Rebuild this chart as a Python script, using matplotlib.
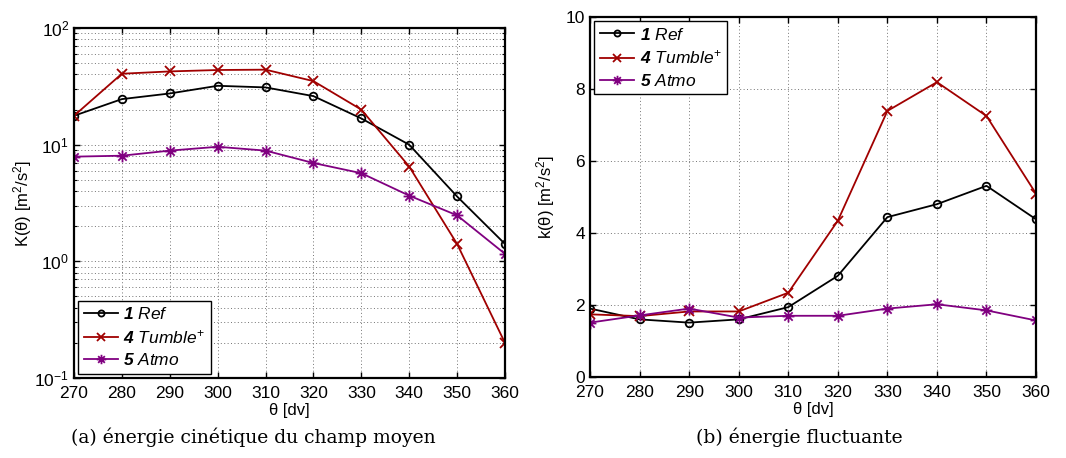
import numpy as np
import matplotlib.pyplot as plt
from matplotlib.path import Path
from matplotlib.ticker import LogLocator, NullFormatter

# === fonts (Helvetica-like axes, serif captions) ===
plt.rcParams['font.family'] = ['Liberation Sans', 'DejaVu Sans']
plt.rcParams['mathtext.fontset'] = 'custom'
plt.rcParams['mathtext.rm'] = 'Liberation Sans'
plt.rcParams['mathtext.it'] = 'Liberation Sans:italic'
plt.rcParams['mathtext.bf'] = 'Liberation Sans:bold'
plt.rcParams['mathtext.bfit'] = 'Liberation Sans:bold:italic'

# === data ===
theta = [270, 280, 290, 300, 310, 320, 330, 340, 350, 360]

K_ref = [17.7, 24.6, 27.5, 32.0, 31.0, 26.1, 16.8, 10.0, 3.6, 1.41]
K_tumble = [17.7, 40.6, 42.5, 43.7, 44.0, 35.1, 20.0, 6.5, 1.41, 0.20]
K_atmo = [7.9, 8.05, 8.9, 9.6, 8.9, 6.97, 5.7, 3.66, 2.48, 1.16]

k_ref = [1.90, 1.60, 1.51, 1.60, 1.94, 2.81, 4.44, 4.80, 5.31, 4.38]
k_tumble = [1.74, 1.69, 1.82, 1.82, 2.34, 4.34, 7.39, 8.19, 7.25, 5.09]
k_atmo = [1.51, 1.71, 1.90, 1.65, 1.70, 1.70, 1.90, 2.02, 1.85, 1.57]

labels = [r'$\mathbfit{1}\ \mathit{Ref}$',
          r'$\mathbfit{4}\ \mathit{Tumble}^{+}$',
          r'$\mathbfit{5}\ \mathit{Atmo}$']
colors = ['black', '#a00000', '#800080']

# MATLAB-style asterisk: '+' and 'x' strokes
a = np.sqrt(0.5)
star = Path([(-1, 0), (1, 0), (0, -1), (0, 1), (-a, -a), (a, a), (-a, a), (a, -a)],
            [Path.MOVETO, Path.LINETO] * 4)
markers = ['o', 'x', star]
msizes = [5.5, 6.5, 8.5]

fig = plt.figure(figsize=(10.66, 4.58), dpi=100)
ax1 = fig.add_axes([0.0694, 0.1747, 0.4043, 0.764])
ax2 = fig.add_axes([0.5535, 0.1769, 0.4184, 0.786])

grid_kw = dict(ls=(0, (1, 2.5)), color='0.45', lw=0.7)


def style_axes(ax):
    for s in ax.spines.values():
        s.set_linewidth(1.6)
    ax.tick_params(direction='in', top=True, right=True, labelsize=12.5,
                   width=1.0, length=4)
    ax.tick_params(axis='x', pad=6)
    ax.tick_params(which='minor', direction='in', top=True, right=True,
                   width=0.8, length=2.5)
    ax.set_xlim(270, 360)
    ax.set_xticks(theta)
    ax.set_xlabel('θ [dv]', fontsize=12, labelpad=1)


def add_legend(ax, loc):
    leg = ax.legend(loc=loc, fontsize=12.5, frameon=True, fancybox=False,
                    edgecolor='black', handlelength=2.0, handletextpad=0.3,
                    borderpad=0.3, labelspacing=0.35, borderaxespad=0.25,
                    markerscale=0.8)
    leg.get_frame().set_linewidth(1.0)
    leg.get_frame().set_alpha(1)


# === (a) mean kinetic energy, log scale ===
series_a = [K_ref, K_tumble, K_atmo]
for y, c, m, s, lab in zip(series_a, colors, markers, msizes, labels):
    ax1.plot(theta, y, color=c, marker=m, lw=1.3, ms=s, mfc='none',
             mew=1.3, label=lab)
ax1.set_yscale('log')
ax1.set_ylim(0.1, 100)
ax1.yaxis.set_major_locator(LogLocator(base=10, numticks=10))
ax1.yaxis.set_minor_locator(LogLocator(base=10, subs=np.arange(2, 10), numticks=10))
ax1.yaxis.set_minor_formatter(NullFormatter())
ax1.grid(True, which='major', **grid_kw)
ax1.grid(True, which='minor', axis='y', **grid_kw)
style_axes(ax1)
ax1.set_ylabel(r'K(θ) [m$^2$/s$^2$]', fontsize=12, labelpad=0)
add_legend(ax1, 'lower left')

# === (b) fluctuating energy ===
series_b = [k_ref, k_tumble, k_atmo]
for y, c, m, s, lab in zip(series_b, colors, markers, msizes, labels):
    ax2.plot(theta, y, color=c, marker=m, lw=1.3, ms=s, mfc='none',
             mew=1.3, label=lab)
ax2.set_ylim(0, 10)
ax2.set_yticks([0, 2, 4, 6, 8, 10])
ax2.grid(True, **grid_kw)
style_axes(ax2)
ax2.set_ylabel(r'k(θ) [m$^2$/s$^2$]', fontsize=12, labelpad=6)
add_legend(ax2, 'upper left')

# === captions ===
fig.text(253 / 1066, 1 - 437 / 458, '(a) énergie cinétique du champ moyen',
         ha='center', va='center', fontsize=13.5, family='DejaVu Serif')
fig.text(799 / 1066, 1 - 437 / 458, '(b) énergie fluctuante',
         ha='center', va='center', fontsize=13.5, family='DejaVu Serif')

fig.savefig('out.png', dpi=100)
